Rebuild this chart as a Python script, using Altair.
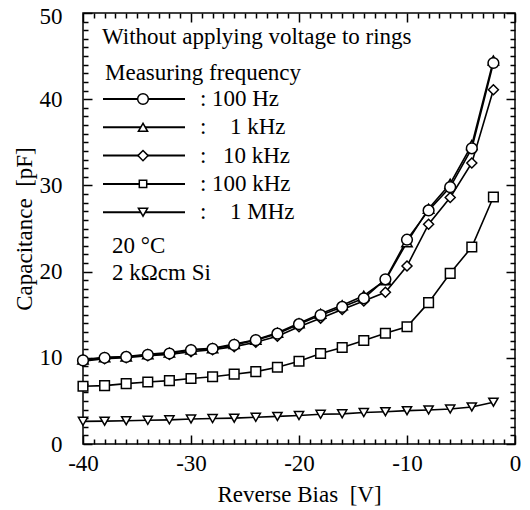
import altair as alt
import pandas as pd

# ---- data ----
bias = [-40, -38, -36, -34, -32, -30, -28, -26, -24, -22,
        -20, -18, -16, -14, -12, -10, -8, -6, -4, -2]

series_names = ["100 Hz", "1 kHz", "10 kHz", "100 kHz", "1 MHz"]

cap_100Hz = [9.7, 10.0, 10.1, 10.35, 10.5, 10.9, 11.05, 11.5, 12.05, 12.8,
             13.9, 14.95, 15.9, 16.9, 19.1, 23.7, 27.1, 29.8, 34.3, 44.2]
cap_1kHz = [9.8, 10.05, 10.15, 10.4, 10.6, 10.95, 11.1, 11.6, 12.1, 12.9,
            14.0, 15.1, 16.1, 17.2, 19.0, 23.4, 27.3, 30.2, 34.7, 44.5]
cap_10kHz = [9.6, 9.9, 10.0, 10.25, 10.4, 10.7, 10.95, 11.3, 11.8, 12.5,
             13.6, 14.6, 15.6, 16.6, 17.6, 20.65, 25.5, 28.6, 32.6, 41.1]
cap_100kHz = [6.7, 6.77, 7.0, 7.2, 7.35, 7.6, 7.8, 8.1, 8.4, 8.9,
              9.6, 10.5, 11.2, 12.0, 12.85, 13.6, 16.4, 19.8, 22.85, 28.65]
cap_1MHz = [2.63, 2.65, 2.7, 2.75, 2.8, 2.9, 2.95, 3.0, 3.1, 3.2,
            3.3, 3.45, 3.5, 3.65, 3.75, 3.87, 3.95, 4.06, 4.3, 4.85]

x_major = [-40, -30, -20, -10, 0]
y_major = [0, 10, 20, 30, 40, 50]

annotation_title = "Without applying voltage to rings"
legend_title = "Measuring frequency"
legend_labels = ["100 Hz", "1 kHz", "10 kHz", "100 kHz", "1 MHz"]
note_lines = ["20 \u00b0C", "2 k\u03a9cm Si"]

# ---- build table ----
all_vals = [cap_100Hz, cap_1kHz, cap_10kHz, cap_100kHz, cap_1MHz]
z_order = {"1 MHz": 0, "100 kHz": 1, "10 kHz": 2, "1 kHz": 3, "100 Hz": 4}
rows = []
for name, vals in zip(series_names, all_vals):
    for v, c in zip(bias, vals):
        rows.append({"bias": v, "cap": c, "series": name, "z": z_order[name]})
df = pd.DataFrame(rows)

FONT = "Liberation Serif"
FS = 23
shapes = ["circle", "triangle-up", "diamond", "square", "triangle-down"]
sizes = [115, 85, 105, 55, 85]

xscale = alt.Scale(domain=[-40, 0], nice=False, zero=False)
yscale = alt.Scale(domain=[0, 50], nice=False, zero=False)

minor_x = list(range(-40, 1))
minor_y = list(range(0, 51))
tick_x = {"condition": {"test": "datum.value % 10 === 0", "value": 9}, "value": 5}
tick_y = {"condition": {"test": "datum.value % 10 === 0", "value": 9}, "value": 5}
hyphen_expr = "datum.value < 0 ? '-' + abs(datum.value) : '' + datum.value"
top_label_shift = {"condition": {"test": "datum.value === 50", "value": 3}, "value": 0}

W, H = 432, 431

lines = alt.Chart(df).mark_line(color="black", strokeWidth=1.6).encode(
    x=alt.X("bias:Q", scale=xscale,
            axis=alt.Axis(orient="bottom", values=x_major, ticks=False, domain=False,
                          grid=False, labelPadding=8, labelFlush=False,
                          labelExpr=hyphen_expr,
                          title="Reverse Bias\u00a0\u00a0[V]", titlePadding=8)),
    y=alt.Y("cap:Q", scale=yscale,
            axis=alt.Axis(orient="left", values=y_major, ticks=False, domain=False,
                          grid=False, labelPadding=21, labelFlush=False,
                          labelOffset=top_label_shift,
                          title="Capacitance\u00a0\u00a0[pF]", titlePadding=3)),
    detail="series:N",
)

points = alt.Chart(df).mark_point(filled=True, fill="white", stroke="black",
                                   strokeWidth=1.5, opacity=1).encode(
    x=alt.X("bias:Q", scale=xscale, title=None,
            axis=alt.Axis(orient="top", offset=-H, values=minor_x, labels=False,
                          domain=False, grid=False, tickSize=tick_x)),
    y=alt.Y("cap:Q", scale=yscale, title=None,
            axis=alt.Axis(orient="right", offset=-W, values=minor_y, labels=False,
                          domain=False, grid=False, tickSize=tick_y)),
    shape=alt.Shape("series:N", scale=alt.Scale(domain=series_names, range=shapes), legend=None),
    size=alt.Size("series:N", scale=alt.Scale(domain=series_names, range=sizes), legend=None),
    order=alt.Order("z:Q"),
)

ghost = alt.Chart(df).mark_point(opacity=0).encode(
    x=alt.X("bias:Q", scale=xscale, title=None,
            axis=alt.Axis(orient="bottom", offset=-H, values=minor_x, labels=False,
                          domain=False, grid=False, tickSize=tick_x)),
    y=alt.Y("cap:Q", scale=yscale, title=None,
            axis=alt.Axis(orient="left", offset=-W, values=minor_y, labels=False,
                          domain=False, grid=False, tickSize=tick_y)),
)

one = pd.DataFrame({"k": [0]})


def text_layer(txt, px, py, align="left"):
    return alt.Chart(one).mark_text(align=align, baseline="middle", font=FONT,
                                    fontSize=FS, color="black", text=txt).encode(
        x=alt.value(px), y=alt.value(py))


annos = [text_layer(annotation_title, 19, 24), text_layer(legend_title, 22, 60)]
label_x = [129, 147, 140, 129, 147]
for i, (lab, shp, sz) in enumerate(zip(legend_labels, shapes, sizes)):
    yy = 86 + i * 28.3
    annos.append(alt.Chart(one).mark_rule(color="black", strokeWidth=2).encode(
        x=alt.value(20), x2=alt.value(102), y=alt.value(yy)))
    annos.append(alt.Chart(one).mark_point(shape=shp, size=sz, filled=True, fill="white",
                                            stroke="black", strokeWidth=1.5, opacity=1).encode(
        x=alt.value(60), y=alt.value(yy)))
    annos.append(text_layer(":", 117, yy))
    annos.append(text_layer(lab, label_x[i], yy))

annos.append(text_layer(note_lines[0], 29, 233))
annos.append(text_layer(note_lines[1], 29, 260))

chart = alt.layer(lines, points, ghost, *annos).resolve_axis(
    x="independent", y="independent"
).properties(
    width=W, height=H,
    padding={"left": 75, "top": 5, "right": 7, "bottom": 63},
    autosize=alt.AutoSizeParams(type="none"),
    background="white",
).configure_view(
    stroke="black", strokeWidth=1.5
).configure_axis(
    labelFont=FONT, titleFont=FONT, labelFontSize=FS, titleFontSize=FS,
    titleFontWeight="normal", labelColor="black", titleColor="black",
    tickColor="black", tickWidth=1.5,
)

chart.save("out.html", embed_options={"renderer": "svg", "actions": False})
